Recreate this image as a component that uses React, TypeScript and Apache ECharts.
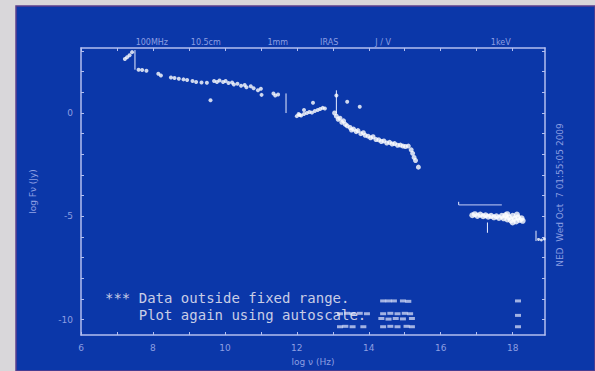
import React, { useEffect, useRef } from "react";
import * as echarts from "echarts";

const xLabelValues = [6, 8, 10, 12, 14, 16, 18];
const xTickValues = [6, 7, 8, 9, 10, 11, 12, 13, 14, 15, 16, 17, 18];
const yLabelValues = [-10, -5, 0];
const yTickValues = [-10, -9, -8, -7, -6, -5, -4, -3, -2, -1, 0, 1, 2, 3];

const topLabels: [number, string][] = [
  [7.97, "100MHz"],
  [9.47, "10.5cm"],
  [11.47, "1mm"],
  [12.9, "IRAS"],
  [14.4, "J / V"],
  [17.67, "1keV"],
];

const radioPts = [[7.22,2.62],[7.28,2.7],[7.35,2.8],[7.42,2.95],[7.6,2.1],[7.7,2.08],[7.82,2.05],[8.15,1.9],[8.22,1.82],[8.5,1.72],[8.6,1.7],[8.72,1.66],[8.85,1.63],[8.95,1.6],[9.1,1.55],[9.2,1.5],[9.35,1.48],[9.5,1.47],[9.7,1.55],[9.78,1.5],[9.85,1.58],[9.95,1.5],[10.02,1.55],[10.1,1.45],[10.2,1.48],[10.25,1.38],[10.35,1.42],[10.45,1.32],[10.55,1.36],[10.6,1.25],[10.72,1.3],[10.8,1.2],[10.92,1.1],[11.0,1.18],[11.02,0.88],[11.35,0.95],[11.4,0.85],[11.48,0.9],[9.6,0.62]];

const irPts = [[12.0,-0.15],[12.05,-0.05],[12.08,-0.1],[12.12,-0.12],[12.2,-0.05],[12.28,0.0],[12.35,0.05],[12.42,0.02],[12.5,0.1],[12.58,0.15],[12.65,0.2],[12.72,0.25],[12.78,0.22],[12.45,0.5],[12.2,0.15],[13.1,0.85],[13.4,0.55],[13.75,0.3]];

const optPts = [[13.05,0.0],[13.1,-0.15],[13.15,-0.3],[13.2,-0.25],[13.25,-0.45],[13.3,-0.38],[13.35,-0.55],[13.4,-0.62],[13.48,-0.7],[13.52,-0.82],[13.58,-0.78],[13.65,-0.9],[13.7,-0.85],[13.78,-1.0],[13.85,-0.95],[13.9,-1.08],[13.98,-1.12],[14.05,-1.2],[14.12,-1.15],[14.2,-1.28],[14.28,-1.3],[14.35,-1.38],[14.42,-1.35],[14.5,-1.45],[14.58,-1.42],[14.65,-1.5],[14.72,-1.48],[14.8,-1.56],[14.88,-1.55],[14.95,-1.6],[15.02,-1.62],[15.1,-1.6],[15.18,-1.78],[15.22,-1.95],[15.26,-2.15],[15.3,-2.3],[15.38,-2.62]];

const xrayPts = [[16.88,-4.95],[16.95,-4.9],[17.02,-4.98],[17.1,-4.92],[17.18,-5.0],[17.25,-4.95],[17.32,-5.02],[17.4,-4.98],[17.48,-5.05],[17.55,-5.0],[17.62,-5.08],[17.7,-4.98],[17.75,-5.1],[17.8,-4.95],[17.85,-5.15],[17.9,-5.05],[17.95,-5.2],[18.0,-4.98],[18.05,-5.12],[18.1,-5.25],[18.15,-5.05],[18.2,-5.18],[18.25,-5.1],[18.28,-5.22],[17.85,-4.9],[18.0,-5.3],[18.12,-4.92]];

const gammaPts = [[18.72,-6.12],[18.8,-6.15],[18.88,-6.1]];

const lowPts = [[14.4,-9.1],[14.55,-9.1],[14.7,-9.1],[14.95,-9.1],[15.1,-9.12],[14.4,-9.72],[14.6,-9.7],[14.8,-9.72],[15.0,-9.7],[15.15,-9.72],[14.35,-9.95],[14.55,-9.98],[14.75,-9.95],[14.95,-9.97],[15.2,-9.95],[14.4,-10.35],[14.6,-10.33],[14.8,-10.35],[15.05,-10.33],[15.2,-10.35],[13.2,-9.72],[13.4,-9.7],[13.55,-9.72],[13.75,-9.7],[13.95,-9.72],[13.2,-10.35],[13.35,-10.33],[13.55,-10.35],[13.85,-10.35],[18.15,-9.1],[18.15,-9.8],[18.15,-10.35]];

const errBars = [[7.5,2.1,3.05],[11.7,0.0,0.95],[13.1,0.0,1.1],[17.3,-5.3,-5.8],[18.65,-5.7,-6.2],[16.5,-4.45,-4.3]];
const limitLines = [[16.5,17.7,-4.45]];

const X_MIN = 6, X_MAX = 18.9, Y_MIN = -10.75, Y_MAX = 3.15;
const FRAME = "#b4bff0";
const LABEL = "#8d9fe2";

export default function App() {
  const ref = useRef<HTMLDivElement>(null);
  useEffect(() => {
    document.body.style.margin = "0";
    const chart = echarts.init(ref.current!, null, { renderer: "svg" });
    const baseAxis = (pos: string, showLabel: boolean, ticks: number[], labels: number[]) => ({
      type: "value",
      position: pos,
      axisLine: { show: true, onZero: false, lineStyle: { color: FRAME, width: 1.5 } },
      axisTick: { show: true, inside: true, length: 3, customValues: ticks, lineStyle: { color: FRAME } },
      axisLabel: { show: showLabel, customValues: labels, color: LABEL, fontSize: 9, fontFamily: "DejaVu Sans" },
      splitLine: { show: false },
    });
    const errRender = (params: any, api: any) => {
      const x = api.value(0), lo = api.value(1), hi = api.value(2);
      const p1 = api.coord([x, lo]), p2 = api.coord([x, hi]);
      return { type: "line", shape: { x1: p1[0], y1: p1[1], x2: p2[0], y2: p2[1] }, style: { stroke: "#e8ecff", lineWidth: 1 } };
    };
    const limRender = (params: any, api: any) => {
      const p1 = api.coord([api.value(0), api.value(2)]), p2 = api.coord([api.value(1), api.value(2)]);
      return { type: "line", shape: { x1: p1[0], y1: p1[1], x2: p2[0], y2: p2[1] }, style: { stroke: "#c8d0f8", lineWidth: 1 } };
    };
    const pt = (data: number[][], size: number, color = "#ffffff", symbol = "circle") => ({
      type: "scatter", data, symbol, symbolSize: size, itemStyle: { color }, silent: true,
    });
    chart.setOption({
      animation: false,
      backgroundColor: "#d9d7da",
      grid: { left: 81, right: 50, top: 48, bottom: 36 },
      xAxis: [
        { ...baseAxis("bottom", true, xTickValues, xLabelValues), min: X_MIN, max: X_MAX,
          name: "log ν (Hz)", nameLocation: "middle", nameGap: 22,
          nameTextStyle: { color: LABEL, fontSize: 9, fontFamily: "DejaVu Sans" },
          axisLabel: { show: true, customValues: xLabelValues, color: LABEL, fontSize: 9, margin: 8, fontFamily: "DejaVu Sans" } },
        { ...baseAxis("top", false, xTickValues, xLabelValues), min: X_MIN, max: X_MAX },
      ],
      yAxis: [
        { ...baseAxis("left", true, yTickValues, yLabelValues), min: Y_MIN, max: Y_MAX,
          name: "log Fν (Jy)", nameLocation: "middle", nameGap: 44,
          nameTextStyle: { color: LABEL, fontSize: 9, fontFamily: "DejaVu Sans" },
          axisLabel: { show: true, customValues: yLabelValues, color: LABEL, fontSize: 9, margin: 8, fontFamily: "DejaVu Sans" } },
        { ...baseAxis("right", false, yTickValues, yLabelValues), min: Y_MIN, max: Y_MAX },
      ],
      series: [
        { type: "custom", renderItem: errRender, data: errBars, silent: true },
        { type: "custom", renderItem: limRender, data: limitLines, silent: true },
        pt(radioPts, 4),
        pt(irPts, 4),
        pt(optPts, 5),
        pt(xrayPts, 6),
        pt(gammaPts, 3),
        pt(lowPts, [6, 3] as any, "rgba(235,238,255,0.85)", "rect"),
      ],
      graphic: [
        { type: "rect", z: -10, silent: true, shape: { x: 16, y: 6, width: 579, height: 365 },
          style: { fill: "#0b37a9", stroke: "#5b3f8c", lineWidth: 1.5 } },
        { type: "text", x: 105, y: 298, silent: true,
          style: { text: "*** Data outside fixed range.", fill: "#c9cde6", fontSize: 14, fontFamily: "DejaVu Sans Mono", verticalAlign: "middle" } },
        { type: "text", x: 105, y: 315, silent: true,
          style: { text: "    Plot again using autoscale.", fill: "#c9cde6", fontSize: 14, fontFamily: "DejaVu Sans Mono", verticalAlign: "middle" } },
        { type: "text", x: 560, y: 195, rotation: Math.PI / 2, silent: true,
          style: { text: "NED  Wed Oct  7 01:55:05 2009", fill: LABEL, fontSize: 9, fontFamily: "DejaVu Sans", align: "center", verticalAlign: "middle" } },
      ],
    });
    const topG = topLabels.map(([v, t]) => {
      const p = chart.convertToPixel({ xAxisIndex: 0 }, v) as number;
      return { type: "text", x: p, y: 42, silent: true,
        style: { text: t, fill: LABEL, fontSize: 8, fontFamily: "DejaVu Sans", align: "center", verticalAlign: "middle" } };
    });
    chart.setOption({ graphic: [
      { type: "rect", z: -10, silent: true, shape: { x: 16, y: 6, width: 579, height: 365 },
        style: { fill: "#0b37a9", stroke: "#5b3f8c", lineWidth: 1.5 } },
      { type: "text", x: 105, y: 298, silent: true,
        style: { text: "*** Data outside fixed range.", fill: "#c9cde6", fontSize: 14, fontFamily: "DejaVu Sans Mono", verticalAlign: "middle" } },
      { type: "text", x: 105, y: 315, silent: true,
        style: { text: "    Plot again using autoscale.", fill: "#c9cde6", fontSize: 14, fontFamily: "DejaVu Sans Mono", verticalAlign: "middle" } },
      { type: "text", x: 560, y: 195, rotation: Math.PI / 2, silent: true,
        style: { text: "NED  Wed Oct  7 01:55:05 2009", fill: LABEL, fontSize: 9, fontFamily: "DejaVu Sans", align: "center", verticalAlign: "middle" } },
      ...topG,
    ] }, { replaceMerge: ["graphic"] });
    return () => chart.dispose();
  }, []);
  return <div ref={ref} style={{ position: "fixed", left: 0, top: 0, width: 595, height: 371 }} />;
}
